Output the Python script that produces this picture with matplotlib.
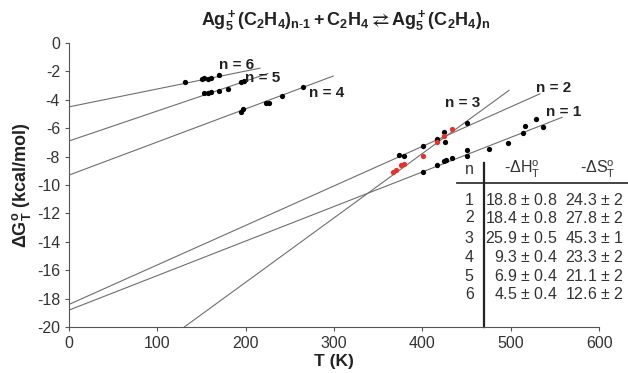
import matplotlib
matplotlib.use("Agg")
import matplotlib.pyplot as plt
import numpy as np

plt.rcParams['font.family'] = ['Liberation Sans', 'DejaVu Sans']
plt.rcParams['mathtext.fontset'] = 'custom'
plt.rcParams['mathtext.rm'] = 'Liberation Sans'
plt.rcParams['mathtext.it'] = 'Liberation Sans:italic'
plt.rcParams['mathtext.bf'] = 'Liberation Sans:bold'
plt.rcParams['axes.unicode_minus'] = False

# table of fitted values (kcal/mol, cal/mol K)
n_vals = [1, 2, 3, 4, 5, 6]
dH = [18.8, 18.4, 25.9, 9.3, 6.9, 4.5]
dH_err = [0.8, 0.8, 0.5, 0.4, 0.4, 0.4]
dS = [24.3, 27.8, 45.3, 23.3, 21.1, 12.6]
dS_err = [2, 2, 1, 2, 2, 2]

# extent of each fitted line (K)
line_tmin = [0, 0, 130, 0, 0, 0]
line_tmax = [558, 533, 498, 299, 225, 216]

# measured points
T1 = [401, 417, 424, 427, 434, 451, 451, 475, 497, 514, 516, 528, 537]
G1 = [-9.06, -8.59, -8.29, -8.22, -8.08, -7.94, -7.54, -7.49, -7.06, -6.32, -5.87, -5.37, -5.89]
T2 = [373, 379, 401, 416, 424, 425, 451]
G2 = [-7.88, -7.98, -7.24, -6.78, -6.27, -6.95, -5.64]
T3 = [367, 370, 376, 379, 401, 417, 424, 434]
G3 = [-9.06, -8.95, -8.62, -8.54, -7.96, -6.97, -6.54, -6.07]
T4 = [195, 197, 223, 226, 241, 265]
G4 = [-4.84, -4.67, -4.25, -4.2, -3.71, -3.08]
T5 = [153, 157, 161, 170, 180, 195, 198]
G5 = [-3.54, -3.52, -3.47, -3.38, -3.26, -2.77, -2.68]
T6 = [131, 150, 153, 157, 161, 170]
G6 = [-2.77, -2.54, -2.5, -2.56, -2.49, -2.25]

label_pos = {1: (560, -4.85), 2: (548, -3.15), 3: (445, -4.2),
             4: (292, -3.5), 5: (219, -2.45), 6: (190, -1.55)}

fig = plt.figure(figsize=(6.28, 3.73), dpi=100)
ax = fig.add_axes([0.110, 0.123, 0.844, 0.762])

line_col = '#6e6e6e'
for i in range(6):
    t = np.array([line_tmin[i], line_tmax[i]])
    ax.plot(t, -dH[i] + dS[i] * t / 1000.0, color=line_col, lw=0.8, zorder=1)

ms = 3.8
for T, G in [(T1, G1), (T2, G2), (T4, G4), (T5, G5), (T6, G6)]:
    ax.plot(T, G, 'o', color='black', ms=ms, mec='none', zorder=3)
ax.plot(T3, G3, 'o', color='#e8302a', ms=ms, mec='none', zorder=3)

for n, (x, y) in label_pos.items():
    ax.text(x, y, 'n = %d' % n, fontsize=11, fontweight='bold', ha='center',
            va='center', color='#222222')

# table
fs = 11.5
tc = '#333333'
hx_n, hx_H, hx_S = 453, 553, 628
ax.text(hx_n, -8.9, 'n', fontsize=fs, ha='center', va='center', color=tc)
ax.text(513, -8.9, r'-$\Delta$H$^{\rm o}_{\rm T}$', fontsize=fs, ha='center',
        va='center', color=tc)
ax.text(598, -8.9, r'-$\Delta$S$^{\rm o}_{\rm T}$', fontsize=fs, ha='center',
        va='center', color=tc, clip_on=False)
row_y = [-11.06, -12.32, -13.73, -15.07, -16.41, -17.68]
for i in range(6):
    ax.text(hx_n, row_y[i], str(n_vals[i]), fontsize=fs, ha='center',
            va='center', color=tc)
    ax.text(hx_H, row_y[i], '%.1f $\\pm$ %.1f' % (dH[i], dH_err[i]), fontsize=fs,
            ha='right', va='center', color=tc, clip_on=False)
    ax.text(hx_S, row_y[i], '%.1f $\\pm$ %d' % (dS[i], dS_err[i]), fontsize=fs,
            ha='right', va='center', color=tc, clip_on=False)
ax.plot([439, 633], [-9.86, -9.86], color='#222222', lw=1.2, clip_on=False)
ax.plot([470, 470], [-8.45, -20], color='#222222', lw=1.6, clip_on=False)

ax.set_xlim(0, 600)
ax.set_ylim(-20, 0)
ax.set_xticks(range(0, 601, 100))
ax.set_yticks(range(-20, 1, 2))
for s in ['top', 'right']:
    ax.spines[s].set_visible(False)
for s in ['left', 'bottom']:
    ax.spines[s].set_color('#555555')
    ax.spines[s].set_linewidth(0.8)
ax.tick_params(colors='#555555', labelcolor='#333333', labelsize=11.5, length=3, width=0.8)

ax.set_xlabel('T (K)', fontsize=12.5, fontweight='bold', color='#222222', labelpad=2)
ax.set_ylabel(r'$\mathbf{\Delta G^o_T}$ (kcal/mol)', fontsize=13, fontweight='bold',
              color='#222222', labelpad=3)

fig.text(0.55, 0.945,
         r'$\mathbf{Ag^+_5(C_2H_4)_{n\text{-}1} + C_2H_4 \rightleftarrows Ag^+_5(C_2H_4)_n}$',
         fontsize=13, ha='center', va='center', color='#222222')

fig.savefig('out.png', dpi=100)
